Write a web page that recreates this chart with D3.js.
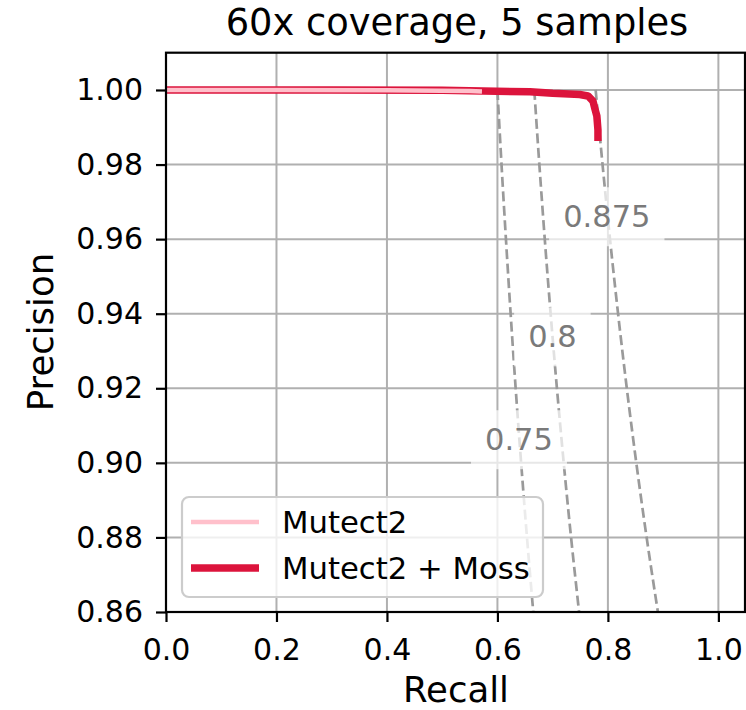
<!DOCTYPE html>
<html>
<head>
<meta charset="utf-8">
<script src="https://cdn.jsdelivr.net/npm/d3@7"></script>
<style>
  html, body { margin: 0; padding: 0; background: #fff; }
  svg { display: block; font-family: "DejaVu Sans", sans-serif; }
</style>
</head>
<body>
<div id="chart"></div>
<script>
// PR curves, 60x coverage
const xTicks = [0, 0.2, 0.4, 0.6, 0.8, 1.0];
const yTicks = [0.86, 0.88, 0.90, 0.92, 0.94, 0.96, 0.98, 1.00];

const mutectRecall    = [0, 0.20, 0.40, 0.50, 0.55, 0.572];
const mutectPrecision = [1.0, 1.0, 0.9999, 0.9998, 0.9997, 0.9996];

const mossRecall    = [0, 0.30, 0.50, 0.574, 0.659, 0.700, 0.749, 0.764, 0.773, 0.776, 0.780, 0.782, 0.782];
const mossPrecision = [1.0, 1.0, 0.9999, 0.9997, 0.9995, 0.9991, 0.9988, 0.9984, 0.997, 0.9952, 0.993, 0.9893, 0.9863];

// iso F-score lines, recall read at these precision levels
const isoLabels = ['0.75', '0.8', '0.875'];
const isoPrecision = [1.00, 0.98, 0.96, 0.94, 0.92, 0.90, 0.88, 0.86];
const isoRecall = [
  [0.6000, 0.6074, 0.6154, 0.6239, 0.6330, 0.6429, 0.6535, 0.6649],
  [0.6667, 0.6759, 0.6857, 0.6963, 0.7077, 0.7200, 0.7333, 0.7478],
  [0.7778, 0.7903, 0.8038, 0.8184, 0.8342, 0.8514, 0.8701, 0.8905]
];
const isoLabelPos = [[0.639, 0.9062], [0.6995, 0.9338], [0.798, 0.966]];

const W = 746, H = 710;
const m = {top:52.7, right:0, bottom:98, left:166};

const xSc = d3.scaleLinear().domain([0, 1.05]).range([m.left, W - m.right]);
const ySc = d3.scaleLinear().domain([0.86, 1.01]).range([H - m.bottom, m.top]);

const svg = d3.select('#chart').append('svg').attr('width', W).attr('height', H);

svg.append('clipPath').attr('id', 'plot').append('rect')
  .attr('x', xSc(0)).attr('y', ySc(1.01)).attr('width', xSc(1.05) - xSc(0)).attr('height', ySc(0.86) - ySc(1.01));

// grid
const grid = svg.append('g');
grid.selectAll('.gx').data(xTicks).join('line')
  .attr('x1', d => xSc(d)).attr('x2', d => xSc(d)).attr('y1', ySc(0.86)).attr('y2', ySc(1.01))
  .style('stroke', '#b0b0b0').style('stroke-width', 2);
grid.selectAll('.gy').data(yTicks).join('line')
  .attr('x1', xSc(0)).attr('x2', xSc(1.05)).attr('y1', d => ySc(d)).attr('y2', d => ySc(d))
  .style('stroke', '#b0b0b0').style('stroke-width', 2);

const plot = svg.append('g').attr('clip-path', 'url(#plot)');

// iso lines
const isoLine = d3.line().x(d => xSc(d[0])).y(d => ySc(d[1])).curve(d3.curveMonotoneY);
isoRecall.forEach(rs => {
  plot.append('path').datum(rs.map((r, i) => [r, isoPrecision[i]]))
    .attr('d', isoLine).attr('fill', 'none')
    .style('stroke', '#9a9a9a').style('stroke-width', 2.7).style('stroke-dasharray', '10,4.5');
});

// iso labels with soft white boxes
isoLabels.forEach((t, i) => {
  const g = svg.append('g');
  const txt = g.append('text')
    .attr('x', xSc(isoLabelPos[i][0])).attr('y', ySc(isoLabelPos[i][1]))
    .attr('text-anchor', 'middle').attr('dominant-baseline', 'central')
    .style('font-size', '30.5px').style('fill', '#7a7a7a').text(t);
  const b = txt.node().getBBox();
  g.insert('rect', 'text')
    .attr('x', b.x - 14).attr('y', b.y - 12).attr('width', b.width + 28).attr('height', b.height + 24)
    .style('fill', '#fff').style('opacity', 0.7);
});

// curves
const line = d3.line().x(d => xSc(d[0])).y(d => ySc(d[1]));
plot.append('path').datum(mossRecall.map((r, i) => [r, mossPrecision[i]]))
  .attr('d', line).attr('fill', 'none')
  .style('stroke', '#dc143c').style('stroke-width', 7.5).style('stroke-linejoin', 'round');
plot.append('path').datum(mutectRecall.map((r, i) => [r, mutectPrecision[i]]))
  .attr('d', line).attr('fill', 'none')
  .style('stroke', '#ffc0cb').style('stroke-width', 4.5);

// axes
const xAx = svg.append('g').attr('transform', `translate(0,${ySc(0.86)})`)
  .call(d3.axisBottom(xSc).tickValues(xTicks).tickFormat(d3.format('.1f')).tickSize(10).tickPadding(17));
const yAx = svg.append('g').attr('transform', `translate(${xSc(0)},0)`)
  .call(d3.axisLeft(ySc).tickValues(yTicks).tickFormat(d3.format('.2f')).tickSize(10).tickPadding(13));
[xAx, yAx].forEach(a => {
  a.select('.domain').remove();
  a.selectAll('line').style('stroke', '#000').style('stroke-width', 2.2);
  a.selectAll('text').style('font-size', '30px').style('fill', '#000').style('font-family', '"DejaVu Sans", sans-serif');
});

// spines
svg.append('rect')
  .attr('x', xSc(0)).attr('y', ySc(1.01)).attr('width', xSc(1.05) - xSc(0) - 1).attr('height', ySc(0.86) - ySc(1.01))
  .attr('fill', 'none').style('stroke', '#000').style('stroke-width', 2.2);

// labels
svg.append('text').attr('x', 457).attr('y', 35).attr('text-anchor', 'middle')
  .style('font-size', '36.8px').text('60x coverage, 5 samples');
svg.append('text').attr('x', 456).attr('y', 702).attr('text-anchor', 'middle')
  .style('font-size', '35.5px').text('Recall');
svg.append('text').attr('transform', 'rotate(-90)').attr('x', -332).attr('y', 53).attr('text-anchor', 'middle')
  .style('font-size', '35.5px').text('Precision');

// legend
const leg = svg.append('g');
leg.append('rect').attr('x', 182).attr('y', 497).attr('width', 361).attr('height', 100).attr('rx', 7)
  .style('fill', '#fff').style('fill-opacity', 0.8).style('stroke', '#cccccc').style('stroke-width', 2.2);
const legItems = [['Mutect2', '#ffc0cb', 4.5], ['Mutect2 + Moss', '#dc143c', 7.5]];
legItems.forEach((d, i) => {
  const yy = 522 + i * 46;
  leg.append('line').attr('x1', 191).attr('x2', 259).attr('y1', yy).attr('y2', yy)
    .style('stroke', d[1]).style('stroke-width', d[2]);
  leg.append('text').attr('x', 282).attr('y', yy + 11).style('font-size', '30.7px').text(d[0]);
});
</script>
</body>
</html>
